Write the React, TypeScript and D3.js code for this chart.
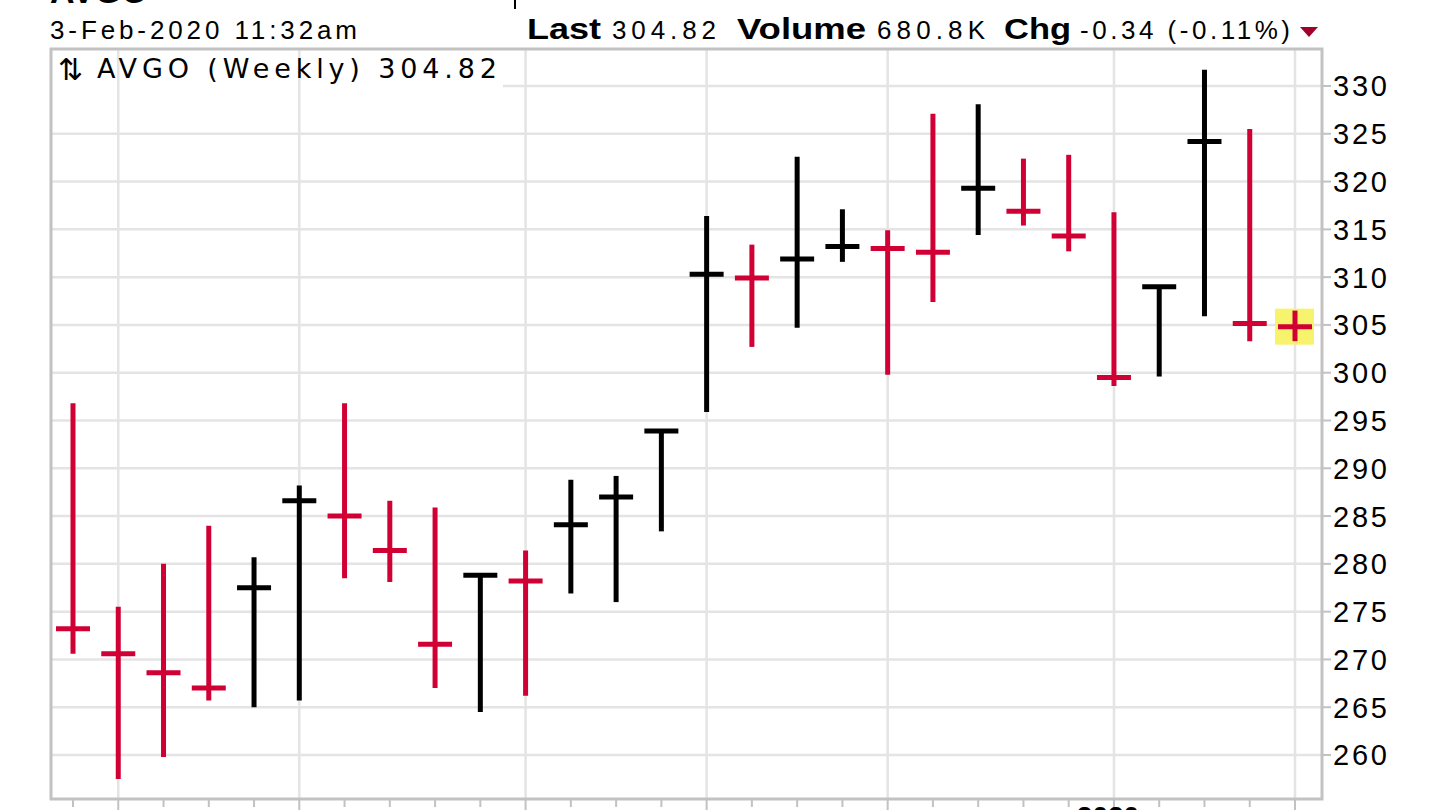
import React from "react";
import * as d3 from "d3";

// weekly bars, AVGO
const weeks = [
  "2019-07-29", "2019-08-05", "2019-08-12", "2019-08-19", "2019-08-26",
  "2019-09-02", "2019-09-09", "2019-09-16", "2019-09-23", "2019-09-30",
  "2019-10-07", "2019-10-14", "2019-10-21", "2019-10-28", "2019-11-04",
  "2019-11-11", "2019-11-18", "2019-11-25", "2019-12-02", "2019-12-09",
  "2019-12-16", "2019-12-23", "2019-12-30", "2020-01-06", "2020-01-13",
  "2020-01-20", "2020-01-27", "2020-02-03",
];
const highs = [
  296.8, 275.5, 280.0, 284.0, 280.7, 288.2, 296.8, 286.6, 285.9, 278.8,
  281.4, 288.8, 289.2, 293.9, 316.4, 313.4, 322.6, 317.1, 314.9, 327.1,
  328.1, 322.4, 322.8, 316.8, 309.0, 331.7, 325.5, 306.5,
];
const lows = [
  270.6, 257.5, 259.8, 265.7, 265.0, 265.7, 278.5, 278.1, 267.0, 264.5,
  266.2, 276.9, 276.0, 283.4, 295.9, 302.7, 304.7, 311.6, 299.8, 307.4,
  314.4, 315.4, 312.7, 298.6, 299.6, 305.9, 303.3, 303.3,
];
const closes = [
  273.2, 270.6, 268.6, 267.0, 277.5, 286.6, 285.0, 281.4, 271.6, 278.8,
  278.2, 284.1, 287.0, 293.9, 310.3, 309.9, 311.9, 313.2, 313.0, 312.6,
  319.3, 316.9, 314.3, 299.5, 309.0, 324.2, 305.16, 304.82,
];
const priorClose = 276.0; // week before the first bar, off chart
const yTicks = [260, 265, 270, 275, 280, 285, 290, 295, 300, 305, 310, 315, 320, 325, 330];
const monthStarts = ["2019-08-05", "2019-09-02", "2019-10-07", "2019-11-04", "2019-12-02", "2020-01-06", "2020-02-03"];
const yearMarks = [{ date: "2020-01-06", label: "2020" }];

const W = 1440;
const H = 810;
const frame = { left: 51, right: 1322, top: 49, bottom: 799 };
const RED = "#d10034";
const GRID = "#e4e4e4";
const BORDER = "#c2c2c2";
const FONT = "'Liberation Sans', Arial, sans-serif";

const parse = d3.timeParse("%Y-%m-%d");

export default function App() {
  const dates = weeks.map((d) => parse(d) as Date);
  const x = d3.scaleTime().domain([dates[0], dates[dates.length - 1]]).range([73, 1295]);
  const y = d3.scaleLinear().domain([260, 330]).range([755, 86]);

  const bars = dates.map((d, i) => ({
    date: d,
    high: highs[i],
    low: lows[i],
    close: closes[i],
    up: closes[i] > (i === 0 ? priorClose : closes[i - 1]),
  }));
  const last = bars[bars.length - 1];

  return (
    <svg
      width={W}
      height={H}
      viewBox={`0 0 ${W} ${H}`}
      style={{ position: "absolute", left: 0, top: 0, background: "#fff" }}
    >
      {/* cut-off title row */}
      <text x={50} y={3} fontFamily={FONT} fontWeight="bold" fontSize={34} fill="#000">
        AVGO
      </text>
      <line x1={515} x2={515} y1={0} y2={9} stroke="#000" strokeWidth={2} />

      {/* header */}
      <g fontFamily={FONT} fontSize={26} fill="#000">
        <text x={50} y={39} textLength={307} lengthAdjust="spacing">3-Feb-2020 11:32am</text>
        <text x={527} y={39} fontWeight="bold" fontSize={29} textLength={74} lengthAdjust="spacingAndGlyphs">Last</text>
        <text x={612} y={39} textLength={104} lengthAdjust="spacing">304.82</text>
        <text x={737} y={39} fontWeight="bold" fontSize={29} textLength={129} lengthAdjust="spacingAndGlyphs">Volume</text>
        <text x={877} y={39} textLength={108} lengthAdjust="spacing">680.8K</text>
        <text x={1004} y={39} fontWeight="bold" fontSize={29} textLength={67} lengthAdjust="spacingAndGlyphs">Chg</text>
        <text x={1080} y={39} textLength={210} lengthAdjust="spacing">-0.34 (-0.11%)</text>
      </g>
      <path d="M1300,27 L1318,27 L1309,37 Z" fill="#a1002c" />

      {/* horizontal grid */}
      <g stroke={GRID} strokeWidth={2.5}>
        {yTicks.map((t) => (
          <line key={t} x1={frame.left} x2={frame.right} y1={y(t)} y2={y(t)} />
        ))}
      </g>

      {/* legend backdrop hides the top grid line */}
      <rect x={frame.left} y={frame.top} width={452} height={48} fill="#fff" />

      {/* vertical month grid */}
      <g stroke={GRID} strokeWidth={2.5}>
        {monthStarts.map((m) => {
          const xm = x(parse(m) as Date);
          return <line key={m} x1={xm} x2={xm} y1={frame.top} y2={frame.bottom} />;
        })}
      </g>

      {/* last bar highlight */}
      <rect x={x(last.date) - 20} y={y(last.close) - 18} width={39} height={36} fill="#f7f36c" />

      {/* bars */}
      {bars.map((b, i) => {
        const cx = x(b.date);
        const c = b.up ? "#000" : RED;
        return (
          <g key={i} stroke={c} strokeWidth={5}>
            <line x1={cx} x2={cx} y1={y(b.high)} y2={y(b.low)} />
            <line x1={cx - 17} x2={cx + 17} y1={y(b.close)} y2={y(b.close)} />
          </g>
        );
      })}

      {/* legend */}
      <text x={58} y={80} fontFamily="'DejaVu Sans', sans-serif" fontSize={30} fill="#000">
        ⇅
      </text>
      <text
        x={97}
        y={78}
        fontFamily="'DejaVu Sans', sans-serif"
        fontSize={27}
        fill="#000"
        textLength={400}
        lengthAdjust="spacing"
      >
        AVGO (Weekly) 304.82
      </text>

      {/* frame */}
      <rect
        x={frame.left}
        y={frame.top}
        width={frame.right - frame.left}
        height={frame.bottom - frame.top}
        fill="none"
        stroke={BORDER}
        strokeWidth={3}
      />

      {/* y axis, right side */}
      <g>
        {yTicks.map((t) => (
          <g key={t}>
            <line x1={frame.right} x2={frame.right + 9} y1={y(t)} y2={y(t)} stroke={BORDER} strokeWidth={2} />
            <text
              x={1333}
              y={y(t)}
              dy="0.36em"
              fontFamily={FONT}
              fontSize={29}
              fill="#000"
              textLength={54}
              lengthAdjust="spacing"
            >
              {t}
            </text>
          </g>
        ))}
      </g>

      {/* bottom week ticks */}
      <g stroke={BORDER} strokeWidth={2}>
        {dates.map((d, i) => {
          const isMonth = monthStarts.includes(weeks[i]);
          return <line key={i} x1={x(d)} x2={x(d)} y1={frame.bottom} y2={isMonth ? 812 : 807} />;
        })}
      </g>
      {yearMarks.map((m) => (
        <text
          key={m.label}
          x={x(parse(m.date) as Date) - 6}
          y={826}
          textAnchor="middle"
          fontFamily={FONT}
          fontWeight="bold"
          fontSize={28}
          fill="#000"
        >
          {m.label}
        </text>
      ))}
    </svg>
  );
}
